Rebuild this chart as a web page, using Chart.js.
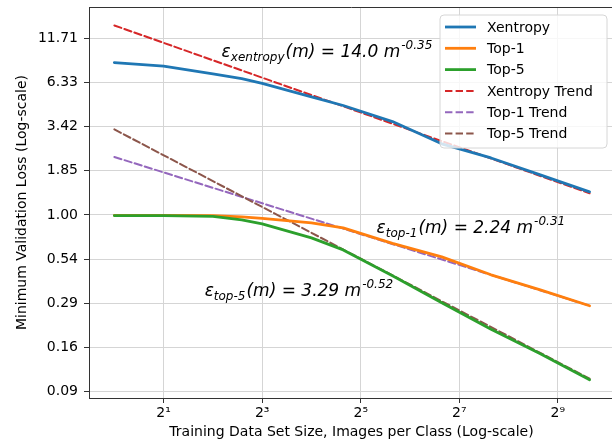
<!DOCTYPE html>
<html>
<head>
<meta charset="utf-8">
<script src="https://cdn.jsdelivr.net/npm/chart.js@4.4.0/dist/chart.umd.min.js"></script>
<style>
  html, body { margin: 0; padding: 0; background: #fff; overflow: hidden; }
  #wrap { width: 612px; height: 441px; overflow: hidden; }
</style>
</head>
<body>
<div id="wrap"><canvas id="chart" width="630" height="441"></canvas></div>
<script>
// ===== Data =====
const imagesPerClass = [1, 2, 4, 6, 8, 16, 25, 50, 100, 200, 400, 800];
const xentropyLoss = [8.35, 7.95, 7.12, 6.68, 6.24, 5.17, 4.59, 3.67, 2.69, 2.21, 1.745, 1.377];
const top1Loss = [0.993, 0.993, 0.990, 0.973, 0.952, 0.895, 0.834, 0.673, 0.557, 0.434, 0.352, 0.282];
const top5Loss = [0.990, 0.990, 0.979, 0.933, 0.882, 0.726, 0.614, 0.428, 0.294, 0.203, 0.1445, 0.1006];

// trend lines are straight on log-log axes, so the two end points are enough
const trendRange = [1, 800];
const xentropyTrend = [14.0, 1.35];
const top1Trend = [2.24, 0.282];
const top5Trend = [3.29, 0.102];

const xTickValues = [2, 8, 32, 128, 512];
const xTickLabels = ["2\u00B9", "2\u00B3", "2\u2075", "2\u2077", "2\u2079"];
const yTickValues = [0.0854, 0.158, 0.292, 0.540, 1.00, 1.85, 3.42, 6.33, 11.71];
const yTickLabels = ["0.09", "0.16", "0.29", "0.54", "1.00", "1.85", "3.42", "6.33", "11.71"];

// fitted power laws shown as text, anchored in data coordinates
const equations = [
  { sub: "xentropy", coef: "14.0", power: "-0.35", at: [4.52, 9.0] },
  { sub: "top-1", coef: "2.24", power: "-0.31", at: [40, 0.778] },
  { sub: "top-5", coef: "3.29", power: "-0.52", at: [3.56, 0.324] }
];

const FONT = "'DejaVu Sans', sans-serif";

function points(xs, ys) {
  return xs.map((x, i) => ({ x: x, y: ys[i] }));
}

// ===== Plugins: frame, equations, legend =====
const framePlugin = {
  id: "frame",
  afterDraw(chart) {
    const { ctx, chartArea: a } = chart;
    ctx.save();
    ctx.strokeStyle = "#333";
    ctx.lineWidth = 1;
    ctx.beginPath();
    ctx.moveTo(a.left, a.top + 0.5);
    ctx.lineTo(a.right, a.top + 0.5);
    ctx.moveTo(a.right - 0.5, a.top);
    ctx.lineTo(a.right - 0.5, a.bottom);
    ctx.stroke();
    ctx.restore();
  }
};

function drawEquation(ctx, eq, x, y) {
  const big = "italic 17px " + FONT;
  const small = "italic 12px " + FONT;
  ctx.font = big;
  ctx.fillText("\u03B5", x, y);
  x += ctx.measureText("\u03B5").width;
  ctx.font = small;
  ctx.fillText(eq.sub, x, y + 4);
  x += ctx.measureText(eq.sub).width + 1;
  ctx.font = big;
  const mid = "(m) = " + eq.coef + " m";
  ctx.fillText(mid, x, y);
  x += ctx.measureText(mid).width + 1;
  ctx.font = small;
  ctx.fillText(eq.power, x, y - 8);
}

const equationPlugin = {
  id: "equations",
  afterDatasetsDraw(chart) {
    const { ctx, scales } = chart;
    ctx.save();
    ctx.fillStyle = "#000";
    ctx.textBaseline = "alphabetic";
    ctx.textAlign = "left";
    equations.forEach(eq => {
      drawEquation(ctx, eq, scales.x.getPixelForValue(eq.at[0]), scales.y.getPixelForValue(eq.at[1]));
    });
    ctx.restore();
  }
};

const legendPlugin = {
  id: "boxLegend",
  afterDraw(chart) {
    const { ctx, chartArea: a } = chart;
    const sets = chart.data.datasets;
    const rowH = 21.3;
    const w = 167, h = 133;
    const left = a.right - 7 - w, top = a.top + 8;
    ctx.save();
    ctx.beginPath();
    ctx.roundRect(left, top, w, h, 4);
    ctx.fillStyle = "rgba(255,255,255,0.8)";
    ctx.fill();
    ctx.strokeStyle = "#d6d6d6";
    ctx.lineWidth = 1;
    ctx.stroke();
    ctx.font = "14px " + FONT;
    ctx.textBaseline = "middle";
    sets.forEach((ds, i) => {
      const cy = top + 12 + i * rowH;
      ctx.beginPath();
      ctx.strokeStyle = ds.borderColor;
      ctx.lineWidth = ds.borderWidth;
      ctx.setLineDash(ds.borderDash || []);
      ctx.moveTo(left + 5, cy);
      ctx.lineTo(left + 36, cy);
      ctx.stroke();
      ctx.setLineDash([]);
      ctx.fillStyle = "#000";
      ctx.fillText(ds.label, left + 47, cy + 1);
    });
    ctx.restore();
  }
};

// ===== Chart =====
const dash = [7.4, 3.2];
new Chart(document.getElementById("chart"), {
  type: "line",
  data: {
    datasets: [
      { label: "Xentropy", data: points(imagesPerClass, xentropyLoss), borderColor: "#1f77b4", borderWidth: 2.8, order: 2 },
      { label: "Top-1", data: points(imagesPerClass, top1Loss), borderColor: "#ff7f0e", borderWidth: 2.8, order: 1 },
      { label: "Top-5", data: points(imagesPerClass, top5Loss), borderColor: "#2ca02c", borderWidth: 2.8, order: 0 },
      { label: "Xentropy Trend", data: points(trendRange, xentropyTrend), borderColor: "#d62728", borderWidth: 2, borderDash: dash, order: 5 },
      { label: "Top-1 Trend", data: points(trendRange, top1Trend), borderColor: "#9467bd", borderWidth: 2, borderDash: dash, order: 4 },
      { label: "Top-5 Trend", data: points(trendRange, top5Trend), borderColor: "#8c564b", borderWidth: 2, borderDash: dash, order: 3 }
    ]
  },
  options: {
    responsive: false,
    animation: false,
    devicePixelRatio: 1,
    layout: { padding: { top: 7, right: 16, left: 0, bottom: 0 } },
    elements: { point: { radius: 0 }, line: { tension: 0, borderCapStyle: "round", borderJoinStyle: "round" } },
    plugins: { legend: { display: false }, tooltip: { enabled: false } },
    scales: {
      x: {
        type: "logarithmic",
        min: 0.717,
        max: 1128,
        afterBuildTicks: s => { s.ticks = xTickValues.map(v => ({ value: v })); },
        afterFit: s => { s.height = 43; s.paddingLeft = 0; s.paddingRight = 0; },
        ticks: {
          autoSkip: false, maxRotation: 0, padding: 2,
          color: "#000", font: { family: FONT, size: 14 },
          callback: (v, i) => xTickLabels[i]
        },
        grid: { color: "#d5d5d5", lineWidth: 1, tickColor: "#333", tickLength: 5 },
        border: { color: "#333", width: 1 },
        title: {
          display: true, text: "Training Data Set Size, Images per Class (Log-scale)",
          color: "#000", font: { family: FONT, size: 14 }, padding: { top: 0, bottom: 0 }
        }
      },
      y: {
        type: "logarithmic",
        min: 0.078,
        max: 18.1,
        afterBuildTicks: s => { s.ticks = yTickValues.map(v => ({ value: v })); },
        afterFit: s => { s.width = 89; s.paddingTop = 0; s.paddingBottom = 0; },
        ticks: {
          autoSkip: false, padding: 6,
          color: "#000", font: { family: FONT, size: 14 },
          callback: (v, i) => yTickLabels[i]
        },
        grid: { color: "#d5d5d5", lineWidth: 1, tickColor: "#333", tickLength: 5 },
        border: { color: "#333", width: 1 },
        title: {
          display: true, text: "Minimum Validation Loss (Log-scale)",
          color: "#000", font: { family: FONT, size: 14 }, padding: { top: 14, bottom: 0 }
        }
      }
    }
  },
  plugins: [framePlugin, equationPlugin, legendPlugin]
});
</script>
</body>
</html>
